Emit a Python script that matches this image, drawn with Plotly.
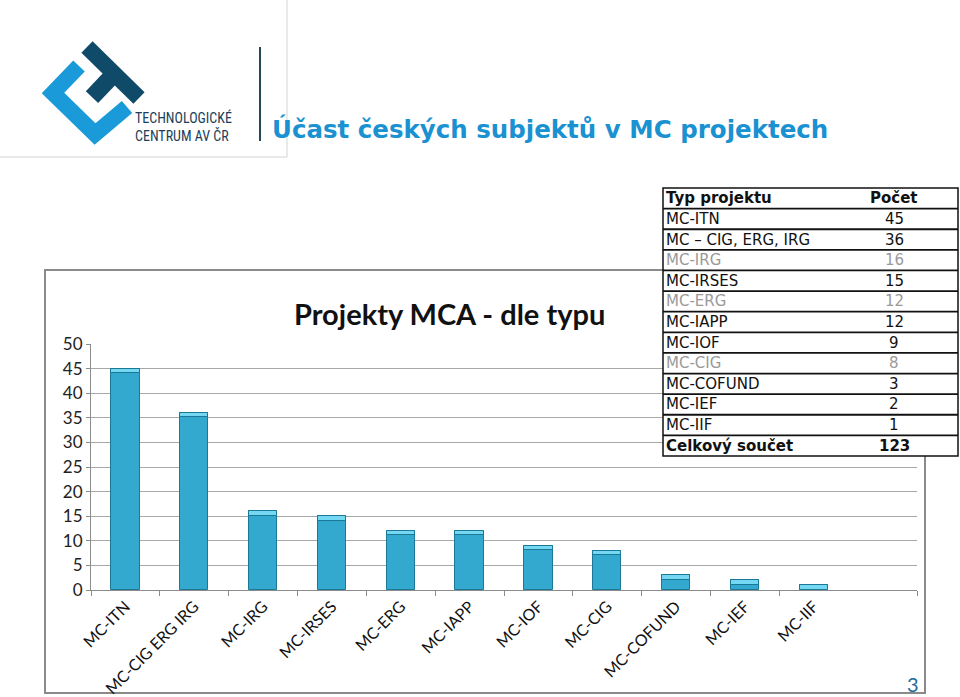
import plotly.graph_objects as go

# ---- data ----
categories = ["MC-ITN", "MC-CIG ERG IRG", "MC-IRG", "MC-IRSES", "MC-ERG", "MC-IAPP",
              "MC-IOF", "MC-CIG", "MC-COFUND", "MC-IEF", "MC-IIF"]
counts = [45, 36, 16, 15, 12, 12, 9, 8, 3, 2, 1]

table_header = ["Typ projektu", "Počet"]
table_types = ["MC-ITN", "MC – CIG, ERG, IRG", "MC-IRG", "MC-IRSES", "MC-ERG", "MC-IAPP",
               "MC-IOF", "MC-CIG", "MC-COFUND", "MC-IEF", "MC-IIF"]
table_counts = [45, 36, 16, 15, 12, 12, 9, 8, 3, 2, 1]
table_total_label = "Celkový součet"
table_total = 123
table_grey_rows = ["MC-IRG", "MC-ERG", "MC-CIG"]

y_ticks = [0, 5, 10, 15, 20, 25, 30, 35, 40, 45, 50]

W, H = 960, 697


def px(x):
    return x / W


def py(y):
    return 1 - y / H


x_idx = list(range(len(categories)))

fig = go.Figure()
fig.add_trace(go.Bar(
    x=x_idx, y=counts, width=0.41,
    marker=dict(color="#33a9cf", line=dict(color="#1b7897", width=1)),
    hoverinfo="y", showlegend=False,
))
# lighter bevelled top of each bar
cap = 0.9
fig.add_trace(go.Bar(
    x=x_idx, y=[min(cap, c) for c in counts], base=[c - min(cap, c) for c in counts],
    width=0.41, marker=dict(color="#74d8f3", line=dict(color="#1b7897", width=1)),
    hoverinfo="skip", showlegend=False,
))

shapes = []
# chart frame
shapes.append(dict(type="rect", xref="paper", yref="paper", x0=px(45), x1=px(925), y0=py(270), y1=py(693),
                   line=dict(color="#8a8a8a", width=2), fillcolor="rgba(0,0,0,0)", layer="below"))
# logo box borders
shapes.append(dict(type="line", xref="paper", yref="paper", x0=px(287), x1=px(287), y0=py(0), y1=py(157),
                   line=dict(color="#e2e2e2", width=1.5)))
shapes.append(dict(type="line", xref="paper", yref="paper", x0=px(0), x1=px(287), y0=py(157), y1=py(157),
                   line=dict(color="#e2e2e2", width=1.5)))
# separator line
shapes.append(dict(type="line", xref="paper", yref="paper", x0=px(260), x1=px(260), y0=py(47), y1=py(141),
                   line=dict(color="#24475a", width=2)))


def path(points):
    return "M " + " L ".join(f"{px(a):.5f},{py(b):.5f}" for a, b in points)


# logo: light-blue C band and dark T
shapes.append(dict(type="path", xref="paper", yref="paper",
                   path=path([(79, 66), (53, 93), (95, 134), (127, 107)]),
                   line=dict(color="#1a9ad8", width=16)))
shapes.append(dict(type="path", xref="paper", yref="paper",
                   path=path([(87, 47), (139, 98)]), line=dict(color="#0f4a68", width=16)))
shapes.append(dict(type="path", xref="paper", yref="paper",
                   path=path([(114, 74), (92, 97)]), line=dict(color="#0f4a68", width=17)))

# table
t_left, t_right, t_top, t_bot = 663, 958, 188, 456
n_rows = len(table_types) + 2
rh = (t_bot - t_top) / n_rows
shapes.append(dict(type="rect", xref="paper", yref="paper", x0=px(t_left), x1=px(t_right), y0=py(t_top), y1=py(t_bot),
                   line=dict(color="#111", width=1.5), fillcolor="white"))
for i in range(1, n_rows):
    yy = t_top + rh * i
    shapes.append(dict(type="line", xref="paper", yref="paper", x0=px(t_left), x1=px(t_right), y0=py(yy), y1=py(yy),
                       line=dict(color="#111", width=1.8)))

annotations = []
tfont = "DejaVu Sans, Verdana, sans-serif"
rows = [(table_header[0], table_header[1], True, "#111")]
for t, c in zip(table_types, table_counts):
    rows.append((t, str(c), False, "#9a9a9a" if t in table_grey_rows else "#111"))
rows.append((table_total_label, str(table_total), True, "#111"))
for i, (t, c, bold, col) in enumerate(rows):
    yc = t_top + rh * (i + 0.5)
    annotations.append(dict(xref="paper", yref="paper", x=px(664), y=py(yc), xanchor="left", yanchor="middle",
                            text=f"<b>{t}</b>" if bold else t, showarrow=False,
                            font=dict(family=tfont, size=15, color=col)))
    annotations.append(dict(xref="paper", yref="paper", x=px(894), y=py(yc), xanchor="center", yanchor="middle",
                            text=f"<b>{c}</b>" if bold else c, showarrow=False,
                            font=dict(family=tfont, size=15, color=col)))

# titles and texts
annotations.append(dict(xref="paper", yref="paper", x=px(270), y=py(129), xanchor="left", yanchor="middle",
                        text="<b>Účast českých subjektů v MC projektech</b>", showarrow=False,
                        font=dict(family="DejaVu Sans, Verdana, sans-serif", size=24.5, color="#1a91d1")))
annotations.append(dict(xref="paper", yref="paper", x=px(449), y=py(314), xanchor="center", yanchor="middle",
                        text="<b>Projekty MCA - dle typu</b>", showarrow=False,
                        font=dict(family="Lato, sans-serif", size=29, color="#111")))
annotations.append(dict(xref="paper", yref="paper", x=px(134), y=py(126), xanchor="left", yanchor="middle",
                        text="TECHNOLOGICKÉ<br>CENTRUM AV ČR", showarrow=False, align="left", borderpad=0,
                        font=dict(family="Liberation Sans Narrow, Roboto Condensed, Roboto, sans-serif", size=14,
                                  color="#1b3f5a")))
annotations.append(dict(xref="paper", yref="paper", x=px(913), y=py(684), xanchor="center", yanchor="middle",
                        text="3", showarrow=False,
                        font=dict(family="Lato, sans-serif", size=20, color="#1f6a9a")))

boundary_ticks = [i - 0.5 for i in range(len(categories))] + [len(categories) + 0.5]

fig.update_layout(
    width=W, height=H, margin=dict(l=0, r=0, t=0, b=0, autoexpand=False),
    paper_bgcolor="white", plot_bgcolor="white",
    barmode="overlay", bargap=0,
    shapes=shapes, annotations=annotations,
    xaxis=dict(domain=[px(91), px(917)], range=[-0.5, len(categories) + 0.5], automargin=False,
               tickmode="array", tickvals=x_idx, ticktext=categories, tickangle=-45,
               ticks="", showgrid=False, showline=True, linecolor="#8c8c8c", linewidth=1,
               tickfont=dict(family="Lato, sans-serif", size=16, color="#111"),
               minor=dict(tickmode="array", tickvals=boundary_ticks, ticks="outside", ticklen=5,
                          tickcolor="#8c8c8c", showgrid=False),
               zeroline=False, fixedrange=True),
    yaxis=dict(domain=[py(590), py(344)], range=[0, 50], tickmode="array", tickvals=y_ticks, automargin=False,
               showgrid=True, gridcolor="#a8a8a8", gridwidth=1, zeroline=False,
               showline=True, linecolor="#8c8c8c", linewidth=1, ticks="outside", ticklen=4,
               tickcolor="#8c8c8c", tickfont=dict(family="Lato, sans-serif", size=17, color="#222"),
               fixedrange=True),
)

fig.write_html("out.html")
